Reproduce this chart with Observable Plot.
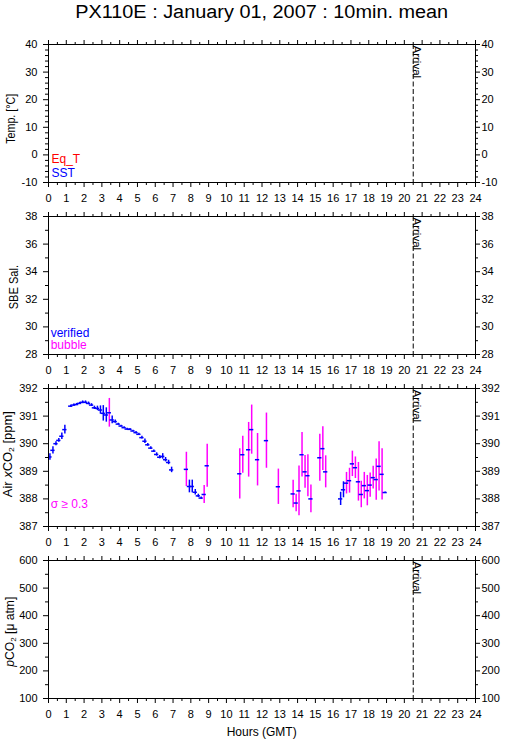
<!DOCTYPE html>
<html><head><meta charset="utf-8">
<script src="https://cdn.jsdelivr.net/npm/d3@7"></script>
<script src="https://cdn.jsdelivr.net/npm/@observablehq/plot@0.6"></script>
<style>
body{margin:0;background:#fff;}
#page{position:relative;width:509px;height:739px;overflow:hidden;background:#fff;}
.panel{position:absolute;left:0;}
#overlay{position:absolute;left:0;top:0;pointer-events:none;}
</style></head><body><div id="page"></div>
<script>
// ---------- data ----------
const arrivalHour = 20.5;
const hourTicks = [0,1,2,3,4,5,6,7,8,9,10,11,12,13,14,15,16,17,18,19,20,21,22,23,24];
const tempTicks = [-10,0,10,20,30,40];
const salTicks = [28,30,32,34,36,38];
const airTicks = [387,388,389,390,391,392];
const pco2Ticks = [100,200,300,400,500,600];

// Air xCO2 10-min means (hour GMT, ppm, standard deviation)
const hours = [
  0.08,0.25,0.42,0.58,0.75,0.92,
  1.25,1.42,1.58,1.75,1.92,2.08,2.25,2.42,2.58,2.75,2.92,3.08,3.25,3.42,3.58,3.75,3.92,
  4.08,4.25,4.42,4.58,4.75,4.92,5.08,5.25,5.42,5.58,5.75,5.92,6.08,6.25,6.42,6.58,6.75,6.92,
  7.75,7.92,8.08,8.25,8.42,8.58,8.75,8.92,
  10.75,10.92,11.25,11.42,11.75,12.25,12.92,13.75,13.92,14.08,14.25,14.42,14.58,14.75,
  15.25,15.42,15.58,16.42,16.58,16.75,16.92,17.08,17.25,17.42,17.58,17.75,17.92,
  18.08,18.25,18.42,18.58,18.75,18.92
];
const xco2 = [
  389.52,389.76,390.00,390.12,390.27,390.51,
  391.36,391.40,391.42,391.46,391.50,391.50,391.46,391.40,391.30,391.28,391.22,391.10,391.04,391.12,390.86,390.80,390.71,
  390.64,390.58,390.53,390.52,390.46,390.40,390.34,390.22,390.09,389.96,389.84,389.73,389.61,389.51,389.54,389.42,389.32,389.05,
  389.07,388.45,388.45,388.24,388.11,388.03,388.16,389.20,
  388.91,389.60,389.78,390.51,389.42,390.11,388.44,388.18,387.85,388.29,389.60,388.98,388.84,388.00,
  389.49,389.82,388.98,388.00,388.33,388.57,388.66,389.27,389.13,388.62,388.16,388.48,388.30,
  388.50,388.77,388.70,389.18,388.89,388.23
];
const sigma = [
  0.12,0.13,0.07,0.07,0.12,0.16,
  0.04,0.04,0.04,0.04,0.05,0.05,0.05,0.05,0.06,0.08,0.15,0.28,0.26,0.52,0.14,0.06,0.03,
  0.03,0.03,0.03,0.03,0.03,0.04,0.04,0.05,0.08,0.05,0.05,0.04,0.06,0.06,0.10,0.08,0.08,0.10,
  0.62,0.23,0.23,0.10,0.06,0.04,0.33,0.78,
  0.91,0.67,0.99,0.89,0.95,1.00,0.64,0.50,0.32,0.90,0.81,0.59,0.76,0.50,
  0.85,0.79,0.58,0.24,0.29,0.39,0.45,0.46,0.39,0.70,0.48,0.48,0.55,
  0.44,0.41,0.75,0.89,0.93,0.02
];
const sigmaLimit = 0.3;

// ---------- layout ----------
const FONT = '"Liberation Sans", Arial, Helvetica, sans-serif';
const BLUE = "#0000ff", MAG = "#ff00ff", RED = "#ff0000";
const W = 509, ML = 48, MR = 34, MT = 10, PH = 138;
const halfHourTicks = hourTicks.slice(1).map((t,i)=>(t+hourTicks[i])/2);
const mids = ticks => ticks.slice(1).map((t,i)=>(t+ticks[i])/2);
const fifths = ticks => { const m = []; ticks.slice(1).forEach((t,i)=>{ const a = ticks[i], s=(t-a)/5; for (let k=1;k<5;k++) m.push(a+k*s); }); return m; };

function panel({yDomain, yMajor, yMinor, marks = [], mb = 24}) {
  return Plot.plot({
    width: W, height: MT + PH + mb,
    marginLeft: ML, marginRight: MR, marginTop: MT, marginBottom: mb,
    style: {fontFamily: FONT, fontSize: "11px", background: "white", color: "black", overflow: "visible"},
    x: {domain: [0, 24], label: null},
    y: {domain: yDomain, label: null},
    marks: [
      ...marks,
      Plot.ruleX([arrivalHour], {x: d => d, stroke: "black", strokeDasharray: "5,2.5"}),
      Plot.text([arrivalHour], {x: d => d, frameAnchor: "top", text: () => "Arrival", rotate: 90,
        textAnchor: "start", lineAnchor: "bottom", dy: 1, fontSize: 11.5, fill: "black"}),
      Plot.frame({stroke: "black"}),
      Plot.axisX({anchor: "bottom", ticks: hourTicks, tickSize: 5, tickPadding: 7, label: null, tickFormat: d => String(d)}),
      Plot.axisX({anchor: "bottom", ticks: halfHourTicks, tickSize: 3, label: null, tickFormat: () => ""}),
      Plot.axisX({anchor: "top", ticks: hourTicks, tickSize: 5, label: null, tickFormat: () => ""}),
      Plot.axisX({anchor: "top", ticks: halfHourTicks, tickSize: 3, label: null, tickFormat: () => ""}),
      Plot.axisY({anchor: "left", ticks: yMajor, tickSize: 5, tickPadding: 6, label: null, tickFormat: d => String(d)}),
      Plot.axisY({anchor: "left", ticks: yMinor, tickSize: 3, label: null, tickFormat: () => ""}),
      Plot.axisY({anchor: "right", ticks: yMajor, tickSize: 4, tickPadding: 2, label: null, tickFormat: d => String(d)}),
      Plot.axisY({anchor: "right", ticks: yMinor, tickSize: 2, label: null, tickFormat: () => ""})
    ]
  });
}

const rows = hours.map((h, i) => ({h, v: xco2[i], s: sigma[i]}));

const panels = [
  {top: 34, el: panel({yDomain: [-10, 40], yMajor: tempTicks, yMinor: fifths(tempTicks)})},
  {top: 206, el: panel({yDomain: [28, 38], yMajor: salTicks, yMinor: mids(salTicks)})},
  {top: 378, el: panel({yDomain: [387, 392], yMajor: airTicks, yMinor: mids(airTicks), marks: [
    Plot.ruleX(rows.filter(d => d.s < sigmaLimit), {x: "h", y1: d => d.v - d.s, y2: d => d.v + d.s, stroke: BLUE, strokeWidth: 1.5, clip: true}),
    Plot.ruleX(rows.filter(d => d.s >= sigmaLimit), {x: "h", y1: d => d.v - d.s, y2: d => d.v + d.s, stroke: MAG, strokeWidth: 1.5, clip: true}),
    Plot.ruleY(rows, {y: "v", x1: d => d.h - 0.12, x2: d => d.h + 0.12, stroke: BLUE, strokeWidth: 1.5, clip: true})
  ]})},
  {top: 550, el: panel({yDomain: [100, 600], yMajor: pco2Ticks, yMinor: mids(pco2Ticks)})}
];

const page = document.getElementById("page");
for (const p of panels) {
  const d = document.createElement("div");
  d.className = "panel";
  d.style.top = p.top + "px";
  d.appendChild(p.el);
  page.appendChild(d);
}

// ---------- text overlay ----------
const ns = "http://www.w3.org/2000/svg";
const ov = document.createElementNS(ns, "svg");
ov.setAttribute("id", "overlay");
ov.setAttribute("width", W); ov.setAttribute("height", 739);
ov.setAttribute("font-family", FONT);
ov.innerHTML = `
<text x="261.7" y="17.5" font-size="18" text-anchor="middle" textLength="373" lengthAdjust="spacingAndGlyphs">PX110E : January 01, 2007 : 10min. mean</text>
<text transform="translate(15,118.8) rotate(-90)" font-size="12" text-anchor="middle" textLength="50" lengthAdjust="spacingAndGlyphs">Temp. [°C]</text>
<text transform="translate(18.3,287.2) rotate(-90)" font-size="12" text-anchor="middle" textLength="44.3" lengthAdjust="spacingAndGlyphs">SBE Sal.</text>
<text transform="translate(12,454.2) rotate(-90)" font-size="12" text-anchor="middle" textLength="86" lengthAdjust="spacingAndGlyphs">Air <tspan font-style="italic">x</tspan>CO<tspan font-size="8" dy="2">2</tspan><tspan dy="-2"> [ppm]</tspan></text>
<text transform="translate(14,631.7) rotate(-90)" font-size="12" text-anchor="middle" textLength="70" lengthAdjust="spacingAndGlyphs"><tspan font-style="italic">p</tspan>CO<tspan font-size="8" dy="2">2</tspan><tspan dy="-2"> [μ atm]</tspan></text>
<text x="51.5" y="162.5" font-size="12" fill="${RED}">Eq_T</text>
<text x="51.5" y="177.3" font-size="12" fill="${BLUE}">SST</text>
<text x="50.7" y="336.5" font-size="12" fill="${BLUE}">verified</text>
<text x="50.7" y="349" font-size="12" fill="${MAG}">bubble</text>
<text x="50.7" y="508.3" font-size="12" fill="${MAG}">σ ≥ 0.3</text>
<text x="261.7" y="735.5" font-size="12" text-anchor="middle">Hours (GMT)</text>
`;
page.appendChild(ov);
</script>
</body></html>
